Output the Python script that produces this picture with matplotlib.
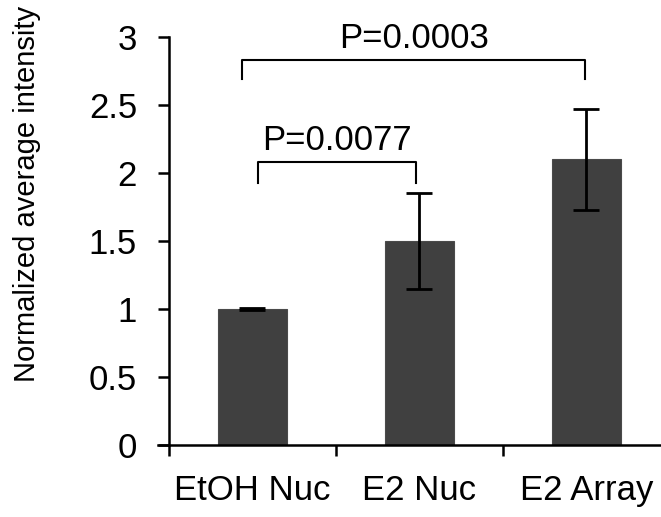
import matplotlib
matplotlib.use("Agg")
import matplotlib.pyplot as plt
from matplotlib.ticker import FuncFormatter

plt.rcParams['font.family'] = ['Liberation Sans', 'DejaVu Sans']

categories = ["EtOH Nuc", "E2 Nuc", "E2 Array"]
means = [1.0, 1.5, 2.1]
errors = [0.01, 0.35, 0.37]
yticks = [0, 0.5, 1, 1.5, 2, 2.5, 3]

# significance brackets: (x left, x right, y top, y bottom, label)
bracket_small = (0.03, 0.98, 2.08, 1.93, "P=0.0077")
bracket_big = (-0.06, 1.99, 2.83, 2.69, "P=0.0003")

fig = plt.figure(figsize=(6.61, 5.17), dpi=100)
ax = fig.add_axes([169/661, 1-445/517, 501/661, 408/517])

x = range(len(categories))
ax.bar(x, means, width=0.41, color='#404040', edgecolor='#4a4a4a', linewidth=0.8, zorder=2)
ax.errorbar(x, means, yerr=errors, fmt='none', ecolor='black', elinewidth=2.0,
            capsize=9.5, capthick=2.0, zorder=3)

for xl, xr, yt, yb, lab in [bracket_small, bracket_big]:
    ax.plot([xl, xl, xr, xr], [yb, yt, yt, yb], color='black', lw=1.5,
            clip_on=False, zorder=3)
    ax.text((xl + xr) / 2, yt + 0.09, lab, ha='center', va='baseline', fontsize=25)

ax.set_xlim(-0.5, 2.5)
ax.set_ylim(0, 3)
ax.set_yticks(yticks)
ax.yaxis.set_major_formatter(FuncFormatter(lambda v, p: "%g" % v))
ax.set_xticks([-0.5, 0.5, 1.5, 2.5])
ax.set_xticklabels([])
ax.set_xticks(list(x), minor=True)
ax.set_xticklabels(categories, minor=True, fontsize=25)
ax.tick_params(axis='x', which='minor', length=0, pad=21)
ax.tick_params(axis='x', which='major', length=8, width=1.8, direction='out')
ax.tick_params(axis='y', length=8, width=1.8, labelsize=25, pad=15)

for s in ['top', 'right']:
    ax.spines[s].set_visible(False)
for s in ['left', 'bottom']:
    ax.spines[s].set_linewidth(1.8)
ax.spines['bottom'].set_bounds(-0.565, 2.5)

ax.set_ylabel("Normalized average intensity", fontsize=21)
ax.yaxis.set_label_coords(-0.255, 0.616)

fig.savefig("out.png", dpi=100)
